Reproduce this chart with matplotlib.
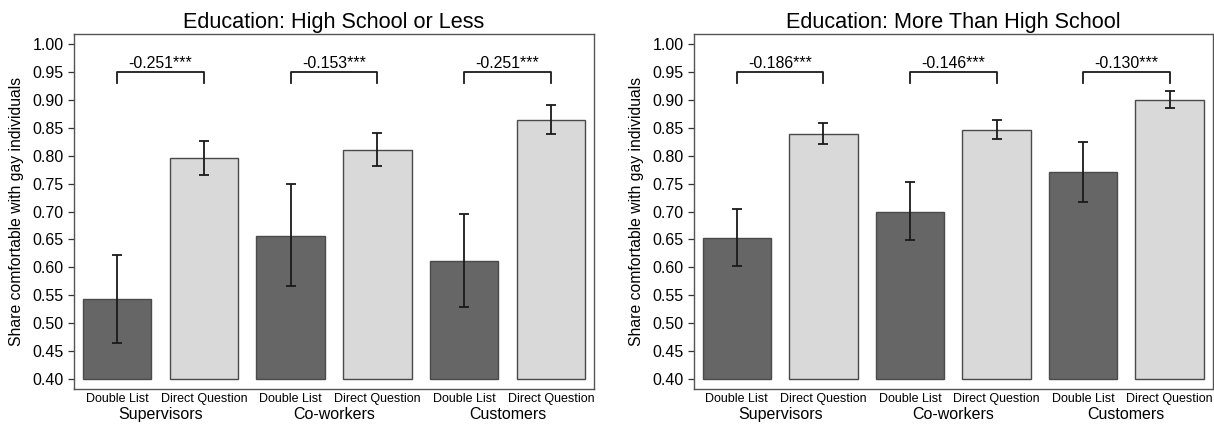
import matplotlib
matplotlib.use('Agg')
import matplotlib.pyplot as plt
import matplotlib.transforms as mtransforms
import numpy as np

GROUPS = ['Supervisors', 'Co-workers', 'Customers']
METHODS = ['Double List', 'Direct Question']

# (Double List, Direct Question) per group
HS_MEAN = [(0.543, 0.795), (0.657, 0.810), (0.612, 0.863)]
HS_LOW = [(0.465, 0.765), (0.567, 0.781), (0.530, 0.838)]
HS_HIGH = [(0.623, 0.826), (0.749, 0.840), (0.696, 0.890)]
HS_DIFF = ['-0.251***', '-0.153***', '-0.251***']

MHS_MEAN = [(0.653, 0.839), (0.700, 0.846), (0.770, 0.900)]
MHS_LOW = [(0.603, 0.821), (0.649, 0.829), (0.717, 0.886)]
MHS_HIGH = [(0.705, 0.858), (0.752, 0.864), (0.824, 0.915)]
MHS_DIFF = ['-0.186***', '-0.146***', '-0.130***']

TITLES = ['Education: High School or Less', 'Education: More Than High School']
YLABEL = 'Share comfortable with gay individuals'
YTICKS = [0.40, 0.45, 0.50, 0.55, 0.60, 0.65, 0.70, 0.75, 0.80, 0.85, 0.90, 0.95, 1.00]

DARK = '#666666'
LIGHT = '#d9d9d9'
EDGE = '#4a4a4a'
BASE = 0.40

plt.rcParams['font.family'] = ['Liberation Sans', 'DejaVu Sans']


def draw_panel(ax, means, lows, highs, diffs, title):
    means = np.array(means).ravel()
    lows = np.array(lows).ravel()
    highs = np.array(highs).ravel()
    x = np.arange(len(means))
    colors = [DARK, LIGHT] * len(GROUPS)
    ax.bar(x, means - BASE, bottom=BASE, width=0.79, color=colors,
           edgecolor=EDGE, linewidth=1.0, zorder=2)
    ax.errorbar(x, means, yerr=[means - lows, highs - means], fmt='none',
                ecolor='#1a1a1a', elinewidth=1.3, capsize=3.5, capthick=1.3,
                zorder=3)

    # brackets with difference labels
    for g, label in enumerate(diffs):
        x0, x1 = 2 * g, 2 * g + 1
        ax.plot([x0, x0, x1, x1], [0.929, 0.95, 0.95, 0.929],
                color='#1a1a1a', linewidth=1.3, zorder=3)
        ax.text((x0 + x1) / 2, 0.951, label, ha='center', va='bottom',
                fontsize=11.4)

    ax.set_xlim(-0.5, len(means) - 0.5)
    ax.set_ylim(0.382, 1.018)
    ax.set_yticks(YTICKS)
    ax.set_yticklabels([f'{t:.2f}' for t in YTICKS])
    ax.tick_params(axis='y', direction='out', length=4.5, width=0.9,
                   color='#333333', labelsize=11.5, pad=2.5)
    ax.set_xticks(x)
    ax.set_xticklabels(METHODS * len(GROUPS), fontsize=9)
    ax.tick_params(axis='x', length=0, pad=3)
    for s in ax.spines.values():
        s.set_color('#555555')
        s.set_linewidth(1.0)

    trans = mtransforms.blended_transform_factory(ax.transData, ax.transAxes)
    for g, name in enumerate(GROUPS):
        ax.text(2 * g + 0.5, -0.07, name, transform=trans, ha='center',
                va='center', fontsize=11.5)

    ax.set_title(title, fontsize=15.6, pad=4)
    ax.set_ylabel(YLABEL, fontsize=11.3, labelpad=6)


fig = plt.figure(figsize=(12.14, 4.25), dpi=100)
ax1 = fig.add_axes([0.0607, 0.084, 0.4288, 0.8367])
ax2 = fig.add_axes([0.5713, 0.084, 0.4278, 0.8367])

draw_panel(ax1, HS_MEAN, HS_LOW, HS_HIGH, HS_DIFF, TITLES[0])
draw_panel(ax2, MHS_MEAN, MHS_LOW, MHS_HIGH, MHS_DIFF, TITLES[1])

fig.savefig('out.png', dpi=100)
